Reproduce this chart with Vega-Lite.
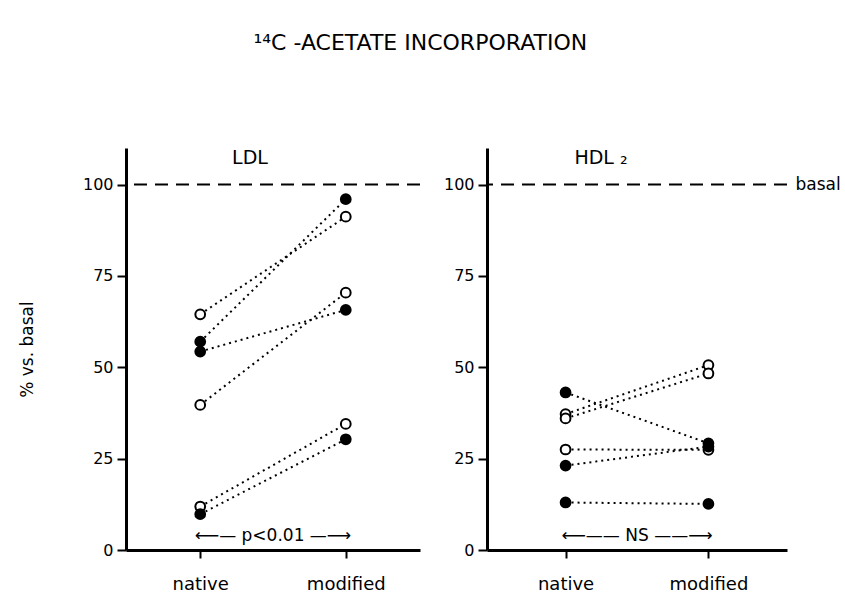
{
  "$schema": "https://vega.github.io/schema/vega-lite/v6.json",
  "background": "white",
  "padding": {"left": 18, "top": 32, "right": 2, "bottom": 5},
  "title": {"text": "¹⁴C -ACETATE  INCORPORATION", "fontSize": 22, "font": "DejaVu Sans", "fontWeight": "normal", "color": "black", "anchor": "middle", "offset": 93, "dx": -9},
  "datasets": {
    "pts": [
      {"panel": "LDL", "pair": "L1", "marker": "open", "condition": "native", "value": 64.5},
      {"panel": "LDL", "pair": "L1", "marker": "open", "condition": "modified", "value": 91.2},
      {"panel": "LDL", "pair": "L2", "marker": "filled", "condition": "native", "value": 57.0},
      {"panel": "LDL", "pair": "L2", "marker": "filled", "condition": "modified", "value": 96.0},
      {"panel": "LDL", "pair": "L3", "marker": "filled", "condition": "native", "value": 54.3},
      {"panel": "LDL", "pair": "L3", "marker": "filled", "condition": "modified", "value": 65.7},
      {"panel": "LDL", "pair": "L4", "marker": "open", "condition": "native", "value": 39.7},
      {"panel": "LDL", "pair": "L4", "marker": "open", "condition": "modified", "value": 70.4},
      {"panel": "LDL", "pair": "L5", "marker": "open", "condition": "native", "value": 11.9},
      {"panel": "LDL", "pair": "L5", "marker": "open", "condition": "modified", "value": 34.5},
      {"panel": "LDL", "pair": "L6", "marker": "filled", "condition": "native", "value": 9.8},
      {"panel": "LDL", "pair": "L6", "marker": "filled", "condition": "modified", "value": 30.3},
      {"panel": "HDL", "pair": "H1", "marker": "filled", "condition": "native", "value": 43.1},
      {"panel": "HDL", "pair": "H1", "marker": "filled", "condition": "modified", "value": 29.2},
      {"panel": "HDL", "pair": "H2", "marker": "open", "condition": "native", "value": 37.2},
      {"panel": "HDL", "pair": "H2", "marker": "open", "condition": "modified", "value": 50.6},
      {"panel": "HDL", "pair": "H3", "marker": "open", "condition": "native", "value": 36.0},
      {"panel": "HDL", "pair": "H3", "marker": "open", "condition": "modified", "value": 48.3},
      {"panel": "HDL", "pair": "H4", "marker": "open", "condition": "native", "value": 27.5},
      {"panel": "HDL", "pair": "H4", "marker": "open", "condition": "modified", "value": 27.4},
      {"panel": "HDL", "pair": "H5", "marker": "filled", "condition": "native", "value": 23.1},
      {"panel": "HDL", "pair": "H5", "marker": "filled", "condition": "modified", "value": 28.3},
      {"panel": "HDL", "pair": "H6", "marker": "filled", "condition": "native", "value": 13.0},
      {"panel": "HDL", "pair": "H6", "marker": "filled", "condition": "modified", "value": 12.6}
    ],
    "basal": [{"value": 100}],
    "notes": [
      {"panel": "LDL", "label": "⟵—  p<0.01  —⟶", "value": 3.8},
      {"panel": "HDL", "label": "⟵——  NS  ——⟶", "value": 3.8}
    ]
  },
  "spacing": 22,
  "hconcat": [
    {
      "width": 294,
      "height": 402,
      "title": {"text": "LDL", "fontSize": 19, "fontWeight": "normal", "font": "DejaVu Sans", "color": "black", "offset": -20, "dx": -23},
      "encoding": {
        "y": {"field": "value", "type": "quantitative", "scale": {"domain": [0, 110], "nice": false},
          "axis": {"title": "% vs. basal", "values": [0, 25, 50, 75, 100], "tickSize": 9, "labelPadding": 4, "titleFontSize": 17, "titleFontWeight": "normal", "titlePadding": 46}}
      },
      "layer": [
        {"data": {"name": "basal"}, "mark": {"type": "rule", "strokeDash": [13, 8], "strokeWidth": 2, "color": "black"}},
        {"data": {"name": "pts"}, "transform": [{"filter": "datum.panel == 'LDL'"}],
          "mark": {"type": "line", "strokeDash": [2, 4], "strokeWidth": 2, "color": "black"},
          "encoding": {
            "x": {"field": "condition", "type": "ordinal", "sort": ["native", "modified"], "scale": {"type": "point", "domain": ["native", "modified"], "padding": 0.51}, "axis": {"title": null, "labelAngle": 0, "tickSize": 8, "labelPadding": 17, "labelFontSize": 18}},
            "detail": {"field": "pair"}
          }},
        {"data": {"name": "pts"}, "transform": [{"filter": "datum.panel == 'LDL'"}],
          "mark": {"type": "point", "shape": "circle", "filled": true, "size": 95, "stroke": "black", "strokeWidth": 2, "opacity": 1},
          "encoding": {
            "x": {"field": "condition", "type": "ordinal", "sort": ["native", "modified"], "scale": {"type": "point", "domain": ["native", "modified"], "padding": 0.51}, "axis": {"title": null, "labelAngle": 0, "tickSize": 8, "labelPadding": 17, "labelFontSize": 18}},
            "fill": {"field": "marker", "type": "nominal", "scale": {"domain": ["filled", "open"], "range": ["black", "white"]}, "legend": null}
          }},
        {"data": {"name": "notes"}, "transform": [{"filter": "datum.panel == 'LDL'"}],
          "mark": {"type": "text", "fontSize": 17, "font": "DejaVu Sans", "color": "black"},
          "encoding": {"text": {"field": "label"}}}
      ]
    },
    {
      "width": 300,
      "height": 402,
      "title": {"text": "HDL ₂", "fontSize": 19, "fontWeight": "normal", "font": "DejaVu Sans", "color": "black", "offset": -20, "dx": -36},
      "resolve": {"axis": {"y": "independent"}},
      "layer": [
        {
          "encoding": {
            "y": {"field": "value", "type": "quantitative", "scale": {"domain": [0, 110], "nice": false},
              "axis": {"title": null, "values": [0, 25, 50, 75, 100], "tickSize": 9, "labelPadding": 4}}
          },
          "layer": [
            {"data": {"name": "pts"}, "transform": [{"filter": "datum.panel == 'HDL'"}],
              "mark": {"type": "line", "strokeDash": [2, 4], "strokeWidth": 2, "color": "black"},
              "encoding": {
                "x": {"field": "condition", "type": "ordinal", "sort": ["native", "modified"], "scale": {"type": "point", "domain": ["native", "modified"], "padding": 0.55}, "axis": {"title": null, "labelAngle": 0, "tickSize": 8, "labelPadding": 17, "labelFontSize": 18}},
                "detail": {"field": "pair"}
              }},
            {"data": {"name": "pts"}, "transform": [{"filter": "datum.panel == 'HDL'"}],
              "mark": {"type": "point", "shape": "circle", "filled": true, "size": 95, "stroke": "black", "strokeWidth": 2, "opacity": 1},
              "encoding": {
                "x": {"field": "condition", "type": "ordinal", "sort": ["native", "modified"], "scale": {"type": "point", "domain": ["native", "modified"], "padding": 0.55}, "axis": {"title": null, "labelAngle": 0, "tickSize": 8, "labelPadding": 17, "labelFontSize": 18}},
                "fill": {"field": "marker", "type": "nominal", "scale": {"domain": ["filled", "open"], "range": ["black", "white"]}, "legend": null}
              }},
            {"data": {"name": "notes"}, "transform": [{"filter": "datum.panel == 'HDL'"}],
              "mark": {"type": "text", "fontSize": 17, "font": "DejaVu Sans", "color": "black"},
              "encoding": {"text": {"field": "label"}}}
          ]
        },
        {"data": {"name": "basal"}, "mark": {"type": "rule", "strokeDash": [13, 8], "strokeWidth": 2, "color": "black"},
          "encoding": {
            "y": {"field": "value", "type": "quantitative", "scale": {"domain": [0, 110], "nice": false},
              "axis": {"orient": "right", "title": null, "values": [100], "labelExpr": "'basal'", "domain": false, "ticks": false, "labelPadding": 8, "labelFontSize": 17}}
          }}
      ]
    }
  ],
  "config": {
    "view": {"stroke": null},
    "font": "DejaVu Sans",
    "axis": {"domainColor": "black", "domainWidth": 3, "tickColor": "black", "tickWidth": 2, "labelColor": "black", "labelFontSize": 16, "labelFont": "DejaVu Sans", "titleColor": "black", "titleFont": "DejaVu Sans", "grid": false}
  }
}
